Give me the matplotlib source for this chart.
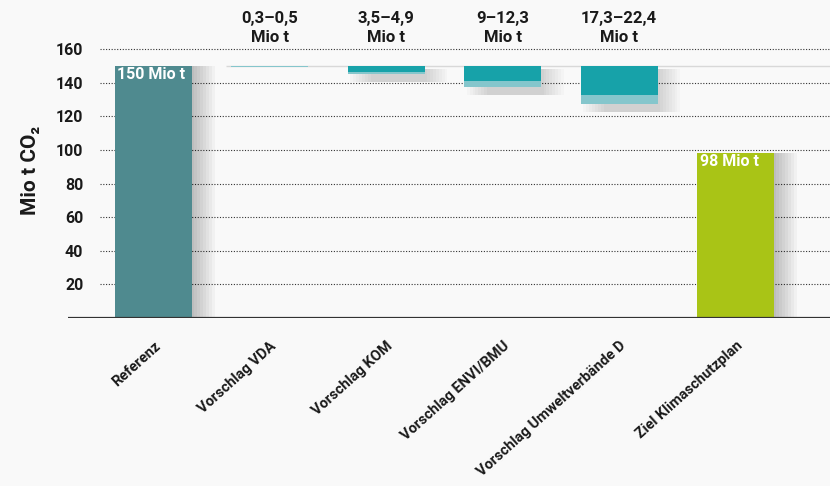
import matplotlib.pyplot as plt
import matplotlib.transforms as mtransforms
import numpy as np

plt.rcParams['font.family'] = ['Roboto', 'DejaVu Sans']

categories = ["Referenz", "Vorschlag VDA", "Vorschlag KOM", "Vorschlag ENVI/BMU",
              "Vorschlag Umweltverbände D", "Ziel Klimaschutzplan"]
reference = 150
target = 98
cut_low = [0.3, 3.5, 9, 17.3]
cut_high = [0.5, 4.9, 12.3, 22.4]
range_labels = ["0,3–0,5\nMio t", "3,5–4,9\nMio t", "9–12,3\nMio t", "17,3–22,4\nMio t"]
yticks = [20, 40, 60, 80, 100, 120, 140, 160]

c_ref = '#4f8a8f'
c_dark = '#17a2a9'
c_light = '#85c6cc'
c_goal = '#a9c416'

fig = plt.figure(figsize=(8.3, 4.86), dpi=100, facecolor='#f9f9f9')
ax = fig.add_axes([68 / 830, 1 - 318 / 486, 762 / 830, 278 / 486])
ax.set_facecolor('none')

xmin, xmax = -0.734, 5.81
ax.set_xlim(xmin, xmax)
ax.set_ylim(0, 278 / 1.681)
w = 0.66
x = np.arange(len(categories))

# grid
ax.hlines(yticks, -0.46, xmax, colors='#333333', linestyles=(0, (1, 1.5)), linewidth=0.8, zorder=1)
ax.hlines(reference, 0.62, xmax, colors='#d8d8d8', linewidth=1.0, zorder=1)

# soft shadows
for k in range(8):
    off = 0.02 + k * 0.025
    a = 0.03
    ax.bar(x[0] + off, reference, width=w, color='black', alpha=a, zorder=2, linewidth=0)
    ax.bar(x[-1] + off, target, width=w, color='black', alpha=a, zorder=2, linewidth=0)
    for i in range(1, 4):
        ax.bar(x[i + 1] + off, -cut_high[i] - 3, bottom=reference - 2, width=w,
               color='black', alpha=a * 0.6, zorder=2, linewidth=0)

ax.bar(x[0], reference, width=w, color=c_ref, zorder=3, linewidth=0)
ax.bar(x[-1], target, width=w, color=c_goal, zorder=3, linewidth=0)
for i in range(4):
    ax.bar(x[i + 1], -cut_high[i], bottom=reference, width=w, color=c_light, zorder=3, linewidth=0)
    ax.bar(x[i + 1], -cut_low[i], bottom=reference, width=w, color=c_dark, zorder=4, linewidth=0)
    ax.text(x[i + 1], 172.5, range_labels[i], ha='center', va='center', fontsize=12,
            fontweight='bold', color='#1a1a1a', linespacing=1.35, clip_on=False)

ax.text(x[0] - w / 2 + 0.02, reference - 5, "150 Mio t", color='white', fontsize=11.5,
        fontweight='bold', va='center', ha='left', zorder=5)
ax.text(x[-1] - w / 2 + 0.02, target - 5, "98 Mio t", color='white', fontsize=11.5,
        fontweight='bold', va='center', ha='left', zorder=5)

ax.axhline(0, color='#333333', linewidth=1.6, zorder=5)

for s in ax.spines.values():
    s.set_visible(False)

ax.set_yticks(yticks)
ax.set_yticklabels([str(v) for v in yticks], fontsize=11.5, fontweight='bold', color='#1a1a1a')
ax.tick_params(axis='y', length=0, pad=-11)
fig.text(30 / 830, 1 - 170 / 486, "Mio t CO₂", rotation=90, ha='center', va='center',
         fontsize=15, fontweight='bold', color='#1a1a1a')

ax.set_xticks(x)
ax.set_xticklabels(categories, rotation=42, ha='right', va='top', rotation_mode='anchor',
                   fontsize=10.5, fontweight='bold', color='#1a1a1a')
ax.tick_params(axis='x', length=0, pad=15)
offset = mtransforms.ScaledTranslation(0, 0, fig.dpi_scale_trans)
for lab in ax.get_xticklabels():
    lab.set_transform(lab.get_transform() + offset)

fig.savefig('out.png', dpi=100, facecolor=fig.get_facecolor())
